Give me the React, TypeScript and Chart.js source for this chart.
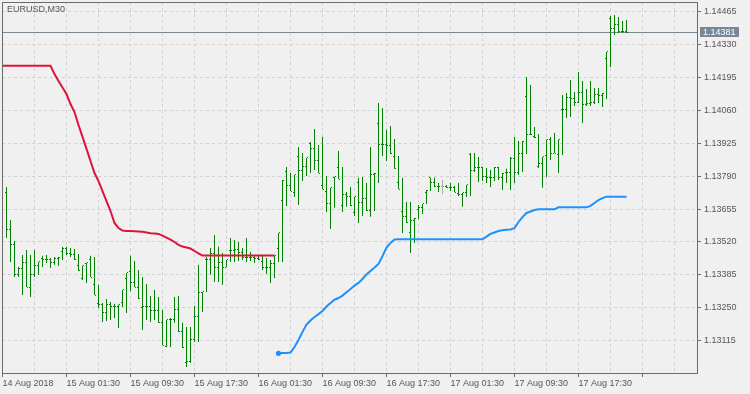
import React, { useEffect, useRef } from 'react';
import { Chart, registerables } from 'chart.js';

Chart.register(...registerables);

// ---------- data ----------
const symbolTitle = 'EURUSD,M30';
const currentPrice = 1.14381;

const timeLabels = [
  '14 Aug 2018', '15 Aug 01:30', '15 Aug 09:30', '15 Aug 17:30', '16 Aug 01:30',
  '16 Aug 09:30', '16 Aug 17:30', '17 Aug 01:30', '17 Aug 09:30', '17 Aug 17:30',
];
const firstLabelBar = -1;
const barsPerLabel = 16;
const barsPerGridLine = 8;

const priceTicks = [
  1.13115, 1.1325, 1.13385, 1.1352, 1.13655, 1.1379, 1.13925, 1.1406, 1.14195, 1.1433, 1.14465,
];

const highs = [
  1.13746, 1.13610, 1.13524, 1.13417, 1.13467, 1.13487, 1.13467, 1.13487, 1.13438, 1.13463,
  1.13467, 1.13454, 1.13458, 1.13458, 1.13500, 1.13500, 1.13495, 1.13491, 1.13471, 1.13422,
  1.13434, 1.13463, 1.13458, 1.13344, 1.13270, 1.13286, 1.13274, 1.13266, 1.13262, 1.13323,
  1.13393, 1.13463, 1.13442, 1.13405, 1.13376, 1.13348, 1.13298, 1.13323, 1.13294, 1.13241,
  1.13200, 1.13208, 1.13294, 1.13298, 1.13188, 1.13171, 1.13171, 1.13257, 1.13426, 1.13315,
  1.13458, 1.13495, 1.13549, 1.13500, 1.13475, 1.13446, 1.13536, 1.13528, 1.13520, 1.13495,
  1.13536, 1.13479, 1.13463, 1.13463, 1.13467, 1.13454, 1.13446, 1.13463, 1.13557, 1.13774,
  1.13828, 1.13803, 1.13795, 1.13910, 1.13885, 1.13865, 1.13930, 1.13984, 1.13918, 1.13951,
  1.13791, 1.13742, 1.13787, 1.13893, 1.13828, 1.13725, 1.13746, 1.13705, 1.13783, 1.13787,
  1.13762, 1.13910, 1.13803, 1.14090, 1.14070, 1.13980, 1.13996, 1.13943, 1.13873, 1.13783,
  1.13684, 1.13684, 1.13618, 1.13672, 1.13676, 1.13733, 1.13783, 1.13783, 1.13762, 1.13774,
  1.13754, 1.13762, 1.13750, 1.13762, 1.13721, 1.13754, 1.13885, 1.13885, 1.13869, 1.13828,
  1.13824, 1.13815, 1.13828, 1.13828, 1.13803, 1.13820, 1.13869, 1.13951, 1.13934, 1.13934,
  1.14197, 1.14164, 1.13992, 1.13963, 1.13869, 1.13939, 1.13951, 1.13967, 1.13939, 1.14123,
  1.14131, 1.14185, 1.14135, 1.14217, 1.14181, 1.14148, 1.14181, 1.14152, 1.14152, 1.14131,
  1.14300, 1.14447, 1.14451, 1.14443, 1.14427, 1.14431,
];

const lows = [
  1.13536, 1.13438, 1.13376, 1.13376, 1.13302, 1.13335, 1.13294, 1.13376, 1.13385, 1.13417,
  1.13434, 1.13413, 1.13426, 1.13422, 1.13446, 1.13467, 1.13458, 1.13446, 1.13401, 1.13364,
  1.13352, 1.13376, 1.13302, 1.13249, 1.13192, 1.13196, 1.13200, 1.13208, 1.13167, 1.13253,
  1.13229, 1.13319, 1.13335, 1.13286, 1.13159, 1.13200, 1.13192, 1.13200, 1.13188, 1.13097,
  1.13089, 1.13089, 1.13188, 1.13151, 1.13085, 1.13007, 1.13024, 1.13110, 1.13110, 1.13233,
  1.13315, 1.13385, 1.13356, 1.13356, 1.13344, 1.13417, 1.13438, 1.13438, 1.13442, 1.13446,
  1.13438, 1.13442, 1.13434, 1.13446, 1.13405, 1.13389, 1.13352, 1.13372, 1.13438, 1.13438,
  1.13668, 1.13729, 1.13705, 1.13672, 1.13770, 1.13791, 1.13803, 1.13815, 1.13803, 1.13737,
  1.13643, 1.13573, 1.13660, 1.13778, 1.13643, 1.13664, 1.13668, 1.13627, 1.13598, 1.13627,
  1.13647, 1.13623, 1.13647, 1.13762, 1.13873, 1.13852, 1.13881, 1.13820, 1.13737, 1.13557,
  1.13598, 1.13475, 1.13516, 1.13614, 1.13635, 1.13676, 1.13729, 1.13746, 1.13725, 1.13717,
  1.13742, 1.13729, 1.13725, 1.13709, 1.13664, 1.13705, 1.13709, 1.13807, 1.13766, 1.13770,
  1.13762, 1.13746, 1.13770, 1.13774, 1.13733, 1.13762, 1.13733, 1.13762, 1.13795, 1.13807,
  1.13881, 1.13959, 1.13947, 1.13824, 1.13742, 1.13787, 1.13856, 1.13885, 1.13803, 1.13877,
  1.14029, 1.14033, 1.14078, 1.14090, 1.14008, 1.14078, 1.14078, 1.14086, 1.14090, 1.14074,
  1.14107, 1.14238, 1.14369, 1.14378, 1.14378, 1.14378,
];

const opens = [
  1.13721, 1.13573, 1.13508, 1.13385, 1.13413, 1.13434, 1.13335, 1.13385, 1.13422, 1.13454,
  1.13446, 1.13446, 1.13434, 1.13454, 1.13479, 1.13495, 1.13471, 1.13467, 1.13422, 1.13372,
  1.13430, 1.13446, 1.13344, 1.13266, 1.13262, 1.13229, 1.13262, 1.13257, 1.13257, 1.13270,
  1.13372, 1.13397, 1.13352, 1.13335, 1.13253, 1.13257, 1.13257, 1.13237, 1.13237, 1.13188,
  1.13093, 1.13200, 1.13200, 1.13241, 1.13151, 1.13024, 1.13028, 1.13118, 1.13216, 1.13311,
  1.13450, 1.13450, 1.13471, 1.13417, 1.13434, 1.13417, 1.13483, 1.13483, 1.13491, 1.13475,
  1.13458, 1.13458, 1.13458, 1.13454, 1.13438, 1.13417, 1.13417, 1.13430, 1.13495, 1.13692,
  1.13811, 1.13750, 1.13721, 1.13869, 1.13815, 1.13828, 1.13926, 1.13902, 1.13856, 1.13750,
  1.13729, 1.13676, 1.13783, 1.13824, 1.13668, 1.13713, 1.13705, 1.13639, 1.13762, 1.13680,
  1.13700, 1.13651, 1.13795, 1.14008, 1.13922, 1.13918, 1.13914, 1.13869, 1.13766, 1.13643,
  1.13623, 1.13557, 1.13610, 1.13655, 1.13660, 1.13725, 1.13783, 1.13762, 1.13746, 1.13746,
  1.13746, 1.13742, 1.13742, 1.13717, 1.13713, 1.13725, 1.13877, 1.13815, 1.13824, 1.13824,
  1.13787, 1.13783, 1.13783, 1.13824, 1.13783, 1.13807, 1.13807, 1.13861, 1.13807, 1.13881,
  1.14115, 1.13963, 1.13951, 1.13828, 1.13844, 1.13873, 1.13939, 1.13885, 1.13877, 1.14062,
  1.14062, 1.14111, 1.14107, 1.14094, 1.14135, 1.14086, 1.14090, 1.14094, 1.14127, 1.14123,
  1.14271, 1.14439, 1.14394, 1.14414, 1.14382, 1.14382,
];

const closes = [
  1.13573, 1.13508, 1.13385, 1.13413, 1.13434, 1.13335, 1.13385, 1.13422, 1.13438, 1.13446,
  1.13446, 1.13434, 1.13454, 1.13458, 1.13495, 1.13471, 1.13467, 1.13446, 1.13401, 1.13422,
  1.13434, 1.13376, 1.13302, 1.13262, 1.13229, 1.13262, 1.13257, 1.13257, 1.13262, 1.13323,
  1.13393, 1.13352, 1.13335, 1.13286, 1.13257, 1.13257, 1.13237, 1.13237, 1.13188, 1.13097,
  1.13200, 1.13200, 1.13241, 1.13151, 1.13085, 1.13028, 1.13118, 1.13216, 1.13311, 1.13315,
  1.13450, 1.13471, 1.13417, 1.13434, 1.13417, 1.13446, 1.13483, 1.13491, 1.13475, 1.13458,
  1.13458, 1.13458, 1.13454, 1.13446, 1.13417, 1.13417, 1.13430, 1.13463, 1.13557, 1.13774,
  1.13750, 1.13729, 1.13795, 1.13815, 1.13828, 1.13865, 1.13902, 1.13856, 1.13803, 1.13737,
  1.13676, 1.13742, 1.13787, 1.13778, 1.13713, 1.13705, 1.13668, 1.13705, 1.13680, 1.13700,
  1.13651, 1.13795, 1.13803, 1.13922, 1.13918, 1.13914, 1.13881, 1.13820, 1.13737, 1.13623,
  1.13598, 1.13610, 1.13618, 1.13660, 1.13676, 1.13733, 1.13762, 1.13746, 1.13746, 1.13746,
  1.13742, 1.13742, 1.13725, 1.13713, 1.13721, 1.13754, 1.13815, 1.13824, 1.13824, 1.13787,
  1.13783, 1.13783, 1.13824, 1.13783, 1.13803, 1.13807, 1.13861, 1.13807, 1.13881, 1.13934,
  1.13963, 1.13959, 1.13947, 1.13844, 1.13869, 1.13939, 1.13885, 1.13885, 1.13939, 1.14062,
  1.14111, 1.14107, 1.14094, 1.14135, 1.14086, 1.14090, 1.14094, 1.14127, 1.14123, 1.14131,
  1.14300, 1.14394, 1.14414, 1.14382, 1.14382, 1.14381,
];

const grayBars = [109];

// red indicator line, first value at bar index redStart
const redStart = -1;
const redLine = [
  1.14243, 1.14243, 1.14243, 1.14243, 1.14243, 1.14243, 1.14243, 1.14243, 1.14243, 1.14243,
  1.14243, 1.14243, 1.14243, 1.14209, 1.14181, 1.14154, 1.14127, 1.14086, 1.14053, 1.14000,
  1.13951, 1.13902, 1.13852, 1.13803, 1.13770, 1.13729, 1.13688, 1.13647, 1.13598, 1.13577,
  1.13567, 1.13565, 1.13565, 1.13564, 1.13563, 1.13562, 1.13559, 1.13556, 1.13555, 1.13553,
  1.13546, 1.13538, 1.13530, 1.13520, 1.13508, 1.13501, 1.13497, 1.13493, 1.13483, 1.13473,
  1.13464, 1.13464, 1.13464, 1.13464, 1.13464, 1.13464, 1.13464, 1.13464, 1.13464, 1.13464,
  1.13464, 1.13464, 1.13464, 1.13464, 1.13464, 1.13464, 1.13464, 1.13464, 1.13464,
];

// blue indicator line, first value at bar index blueStart
const blueStart = 68;
const blueLine = [
  1.13063, 1.13064, 1.13064, 1.13066, 1.13089, 1.13118, 1.13151, 1.13181, 1.13198, 1.13212,
  1.13224, 1.13237, 1.13255, 1.13270, 1.13283, 1.13290, 1.13300, 1.13314, 1.13327, 1.13341,
  1.13352, 1.13368, 1.13387, 1.13401, 1.13415, 1.13430, 1.13462, 1.13497, 1.13516, 1.13530,
  1.13531, 1.13531, 1.13531, 1.13531, 1.13531, 1.13531, 1.13531, 1.13531, 1.13531, 1.13531,
  1.13531, 1.13531, 1.13531, 1.13531, 1.13531, 1.13531, 1.13531, 1.13531, 1.13531, 1.13531,
  1.13531, 1.13531, 1.13542, 1.13553, 1.13559, 1.13565, 1.13568, 1.13570, 1.13571, 1.13577,
  1.13602, 1.13622, 1.13639, 1.13645, 1.13651, 1.13654, 1.13654, 1.13654, 1.13654, 1.13654,
  1.13662, 1.13662, 1.13662, 1.13662, 1.13662, 1.13662, 1.13662, 1.13662, 1.13668, 1.13680,
  1.13692, 1.13700, 1.13706, 1.13706, 1.13706, 1.13706, 1.13706, 1.13706,
];

// ---------- styling ----------
const BG = '#f0f0f0';
const GREEN = '#008000';
const GRAY_BAR = '#a8a8a8';
const RED = '#dc143c';
const BLUE = '#1e90ff';
const GRID = '#d0d0d0';
const AXIS = '#6a6a6a';
const TEXT = '#555555';
const PRICE = '#778899';
const FONT_FAMILY = 'Liberation Sans';
const FONT_SIZE = 9;

const X_MIN = -1.125;
const X_MAX = 172.625;
const Y_MIN = 1.129823;
const Y_MAX = 1.145047;

function makeTickImage(pixel: number, color: string) {
  const c = document.createElement('canvas');
  c.width = 3;
  c.height = 1;
  const g = c.getContext('2d')!;
  g.fillStyle = color;
  g.fillRect(pixel, 0, 1, 1);
  return c;
}

const isLabelBar = (v: number) => (v - firstLabelBar) % barsPerLabel === 0;

function zeroPadding(s: any) {
  s.paddingTop = 0;
  s.paddingBottom = 0;
  s.paddingLeft = 0;
  s.paddingRight = 0;
}

export default function App() {
  const ref = useRef<HTMLCanvasElement>(null);

  useEffect(() => {
    document.body.style.margin = '0';
    const canvas = ref.current!;
    const openG = makeTickImage(0, GREEN);
    const closeG = makeTickImage(2, GREEN);
    const openGray = makeTickImage(0, GRAY_BAR);
    const closeGray = makeTickImage(2, GRAY_BAR);
    const isGray = (i: number) => grayBars.includes(i);

    const gridBars: number[] = [];
    for (let v = firstLabelBar; v <= X_MAX; v += barsPerGridLine) gridBars.push(v);

    const font = { family: FONT_FAMILY, size: FONT_SIZE };
    const fontCss = `${FONT_SIZE}px "${FONT_FAMILY}"`;

    const mtPlugin = {
      id: 'mtFrame',
      beforeDraw(chart: any) {
        const { ctx, width, height } = chart;
        ctx.save();
        ctx.fillStyle = BG;
        ctx.fillRect(0, 0, width, height);
        ctx.restore();
      },
      beforeDatasetsDraw(chart: any) {
        const { ctx, chartArea: a, scales } = chart;
        const py = Math.round(scales.y.getPixelForValue(currentPrice)) + 0.5;
        ctx.save();
        ctx.strokeStyle = PRICE;
        ctx.lineWidth = 1;
        ctx.beginPath();
        ctx.moveTo(a.left, py);
        ctx.lineTo(a.right, py);
        ctx.stroke();
        ctx.restore();
      },
      afterDraw(chart: any) {
        const { ctx, chartArea: a, scales } = chart;
        ctx.save();
        ctx.strokeStyle = AXIS;
        ctx.lineWidth = 1;
        ctx.beginPath();
        ctx.moveTo(a.left + 0.5, a.bottom);
        ctx.lineTo(a.left + 0.5, a.top + 0.5);
        ctx.lineTo(a.right, a.top + 0.5);
        ctx.stroke();
        ctx.font = fontCss;
        ctx.textBaseline = 'middle';
        ctx.textAlign = 'left';
        ctx.fillStyle = TEXT;
        ctx.fillText(symbolTitle, a.left + 5, a.top + 8);
        const py = Math.round(scales.y.getPixelForValue(currentPrice));
        ctx.fillStyle = PRICE;
        ctx.fillRect(a.right + 3, py - 5, 39, 10);
        ctx.fillStyle = '#ffffff';
        ctx.fillText(currentPrice.toFixed(5), a.right + 6, py + 0.5);
        ctx.restore();
      },
    };

    const chart = new Chart(canvas, {
      type: 'bar',
      data: {
        datasets: [
          {
            type: 'line',
            label: 'red',
            data: redLine.map((v, i) => ({ x: redStart + i, y: v })),
            borderColor: RED,
            borderWidth: 2,
            pointRadius: 0,
            tension: 0,
            order: 0,
          } as any,
          {
            type: 'line',
            label: 'blue',
            data: blueLine.map((v, i) => ({ x: blueStart + i, y: v })),
            borderColor: BLUE,
            borderWidth: 2,
            pointRadius: (c: any) => (c.dataIndex === 0 ? 2.6 : 0),
            pointBackgroundColor: BLUE,
            pointBorderWidth: 0,
            tension: 0,
            order: 0,
          } as any,
          {
            type: 'line',
            label: 'open',
            data: opens.map((v, i) => ({ x: i, y: v })),
            showLine: false,
            pointRadius: 1,
            pointStyle: (c: any) => (isGray(c.dataIndex) ? openGray : openG),
            order: 1,
          } as any,
          {
            type: 'line',
            label: 'close',
            data: closes.map((v, i) => ({ x: i, y: v })),
            showLine: false,
            pointRadius: 1,
            pointStyle: (c: any) => (isGray(c.dataIndex) ? closeGray : closeG),
            order: 1,
          } as any,
          {
            type: 'bar',
            label: 'range',
            data: highs.map((h, i) => ({ x: i, y: [lows[i], h] })),
            backgroundColor: (c: any) => (isGray(c.dataIndex) ? GRAY_BAR : GREEN),
            borderWidth: 0,
            barThickness: 1,
            inflateAmount: 0,
            grouped: false,
            order: 2,
          } as any,
        ],
      },
      options: {
        animation: false,
        responsive: false,
        devicePixelRatio: 1,
        events: [],
        layout: { autoPadding: false, padding: { left: 2, top: 2, right: 0, bottom: 0 } },
        plugins: {
          legend: { display: false },
          tooltip: { enabled: false },
          title: { display: false },
        },
        scales: {
          x: {
            type: 'linear',
            position: 'bottom',
            min: X_MIN,
            max: X_MAX,
            offset: false,
            afterFit: (s: any) => {
              s.height = 21;
              zeroPadding(s);
            },
            afterBuildTicks: (s: any) => {
              s.ticks = gridBars.map((v) => ({ value: v }));
            },
            grid: {
              offset: false,
              color: GRID,
              lineWidth: 1,
              tickLength: 4,
              tickWidth: 1,
              tickColor: (c: any) => (c.tick && isLabelBar(c.tick.value) ? AXIS : 'rgba(0,0,0,0)'),
            },
            border: { color: AXIS, width: 1, dash: [3, 3] },
            ticks: {
              autoSkip: false,
              maxRotation: 0,
              minRotation: 0,
              align: 'start',
              padding: 1,
              color: TEXT,
              font,
              callback: (v: any) => {
                const n = Number(v);
                if (!isLabelBar(n)) return '';
                return timeLabels[(n - firstLabelBar) / barsPerLabel] ?? '';
              },
            },
          },
          y: {
            type: 'linear',
            position: 'right',
            min: Y_MIN,
            max: Y_MAX,
            beginAtZero: false,
            afterFit: (s: any) => {
              s.width = 53;
              zeroPadding(s);
            },
            afterBuildTicks: (s: any) => {
              s.ticks = priceTicks.map((v) => ({ value: v }));
            },
            grid: {
              color: GRID,
              lineWidth: 1,
              tickLength: 4,
              tickWidth: 1,
              tickColor: AXIS,
            },
            border: { color: AXIS, width: 1, dash: [3, 3] },
            ticks: {
              padding: 3,
              color: TEXT,
              font,
              callback: (v: any) => Number(v).toFixed(5),
            },
          },
        },
      } as any,
      plugins: [mtPlugin],
    });

    return () => chart.destroy();
  }, []);

  return (
    <div style={{ width: 750, height: 394, background: BG }}>
      <canvas ref={ref} width={750} height={394} style={{ display: 'block' }} />
    </div>
  );
}
